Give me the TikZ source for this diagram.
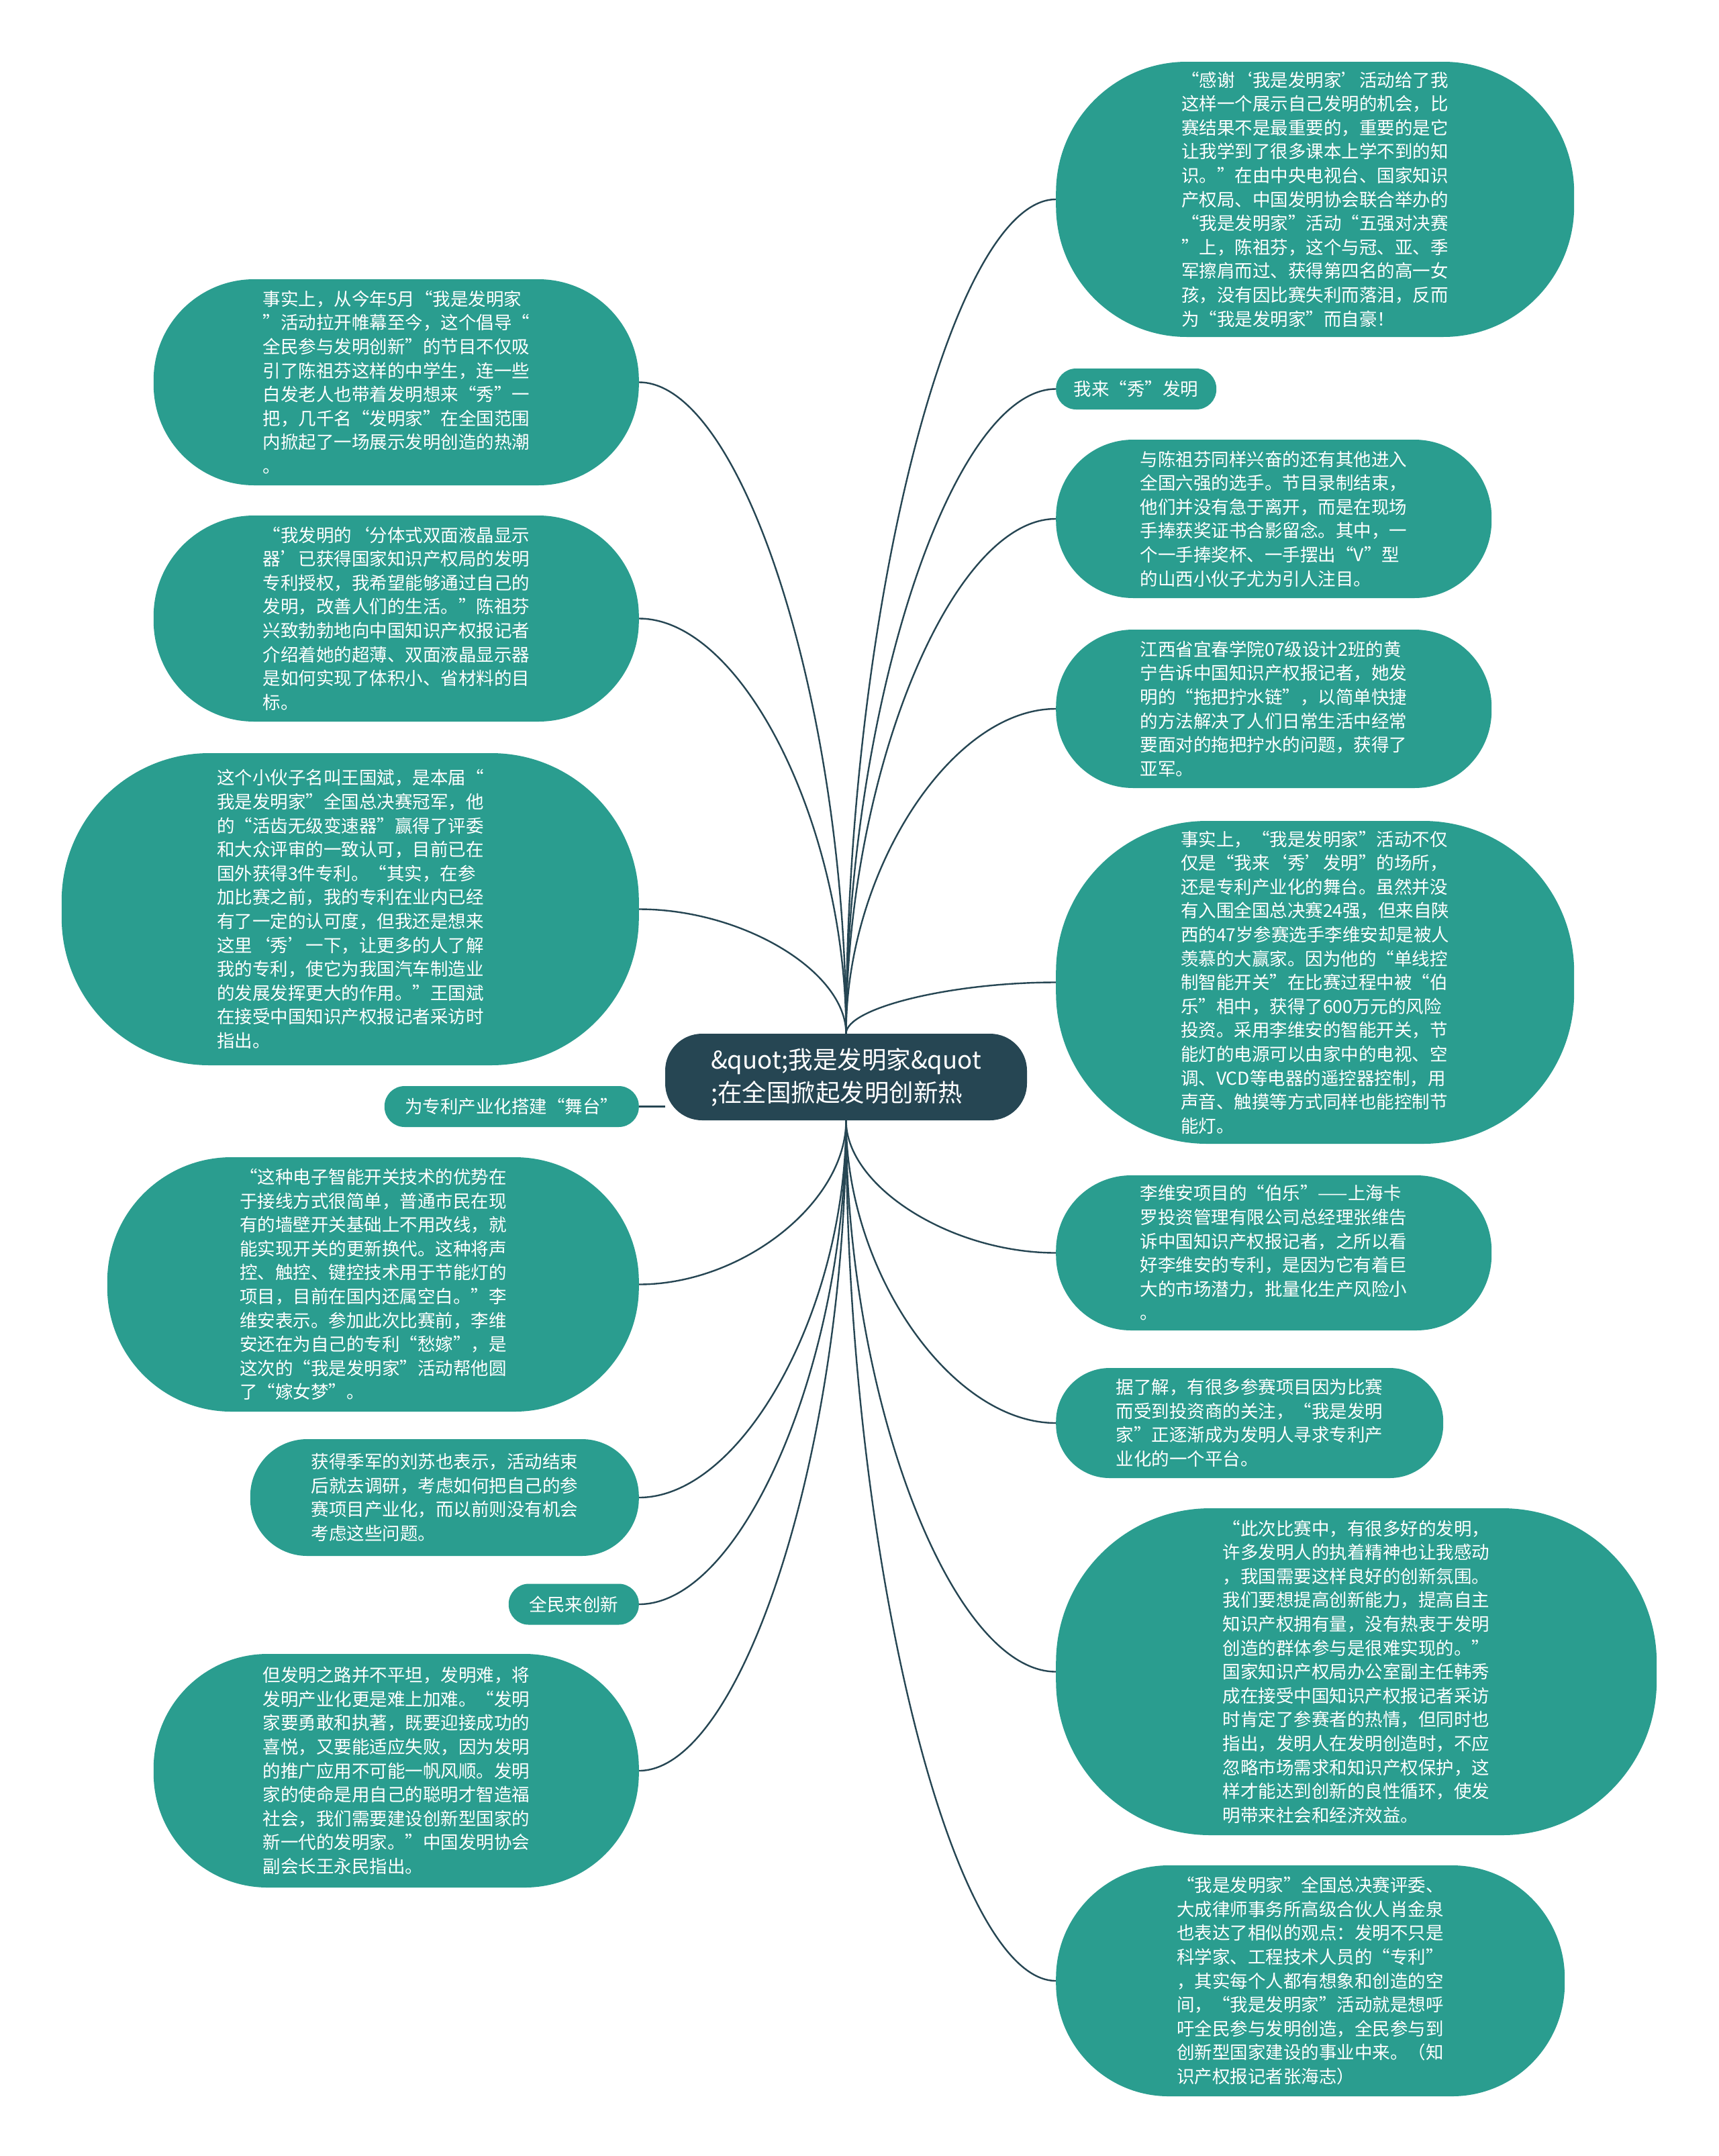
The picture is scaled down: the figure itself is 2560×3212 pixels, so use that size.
\documentclass[tikz,border=0pt]{standalone}
\usepackage{fontspec}
\setmainfont{Noto Sans CJK SC}
\usetikzlibrary{calc}

\definecolor{slate}{HTML}{264653}
\definecolor{seagreen}{HTML}{2A9D8F}

\begin{document}
\begin{tikzpicture}[x=1pt, y=-1pt,
  topic/.style={fill=slate, text=white, rounded corners=55pt, align=left, inner sep=0pt,
    minimum width=539pt, minimum height=129pt, font=\fontsize{36.5}{49}\selectfont},
  leaf/.style={fill=seagreen, text=white, rounded corners=#1, align=left, inner sep=0pt,
    font=\fontsize{26.5}{35.6}\selectfont},
  leaf/.default=150pt,
  tag/.style={fill=seagreen, text=white, rounded corners=30pt, inner sep=0pt,
    minimum height=61pt, font=\fontsize{26.5}{32}\selectfont},
  link/.style={draw=slate, line width=2.4pt,
    to path={let \p1=(\tikztostart), \p2=(\tikztotarget) in
      .. controls (\x1,{0.5*\y1+0.5*\y2}) and ({0.5*\x1+0.5*\x2},\y2) .. (\tikztotarget)}}]

  % -- Canvas --
  \useasboundingbox (0,0) rectangle (2560,3212);
  \fill[white] (0,0) rectangle (2560,3212);

  % -- Central topic --
  \node[topic] (root) at (1260.5,1604.5) {\&quot;我是发明家\&quot\\;在全国掀起发明创新热};

  % -- Right branch --
  \node[leaf=195pt, anchor=west, minimum width=772pt, minimum height=410pt] (r1) at (1573,297)
    {“感谢‘我是发明家’活动给了我\\这样一个展示自己发明的机会，比\\赛结果不是最重要的，重要的是它\\让我学到了很多课本上学不到的知\\识。”在由中央电视台、国家知识\\产权局、中国发明协会联合举办的\\“我是发明家”活动“五强对决赛\\”上，陈祖芬，这个与冠、亚、季\\军擦肩而过、获得第四名的高一女\\孩，没有因比赛失利而落泪，反而\\为“我是发明家”而自豪！};
  \node[tag, anchor=west, minimum width=239pt] (r2) at (1573,579.5) {我来“秀”发明};
  \node[leaf=115pt, anchor=west, minimum width=649pt, minimum height=236pt] (r3) at (1573,773)
    {与陈祖芬同样兴奋的还有其他进入\\全国六强的选手。节目录制结束，\\他们并没有急于离开，而是在现场\\手捧获奖证书合影留念。其中，一\\个一手捧奖杯、一手摆出“V”型\\的山西小伙子尤为引人注目。};
  \node[leaf=115pt, anchor=west, minimum width=649pt, minimum height=236pt] (r4) at (1573,1056)
    {江西省宜春学院07级设计2班的黄\\宁告诉中国知识产权报记者，她发\\明的“拖把拧水链”，以简单快捷\\的方法解决了人们日常生活中经常\\要面对的拖把拧水的问题，获得了\\亚军。};
  \node[leaf=225pt, anchor=west, minimum width=772pt, minimum height=481pt] (r5) at (1573,1463.5)
    {事实上，“我是发明家”活动不仅\\仅是“我来‘秀’发明”的场所，\\还是专利产业化的舞台。虽然并没\\有入围全国总决赛24强，但来自陕\\西的47岁参赛选手李维安却是被人\\羡慕的大赢家。因为他的“单线控\\制智能开关”在比赛过程中被“伯\\乐”相中，获得了600万元的风险\\投资。采用李维安的智能开关，节\\能灯的电源可以由家中的电视、空\\调、VCD等电器的遥控器控制，用\\声音、触摸等方式同样也能控制节\\能灯。};
  \node[leaf=112pt, anchor=west, minimum width=649pt, minimum height=231pt] (r6) at (1573,1866.5)
    {李维安项目的“伯乐”——上海卡\\罗投资管理有限公司总经理张维告\\诉中国知识产权报记者，之所以看\\好李维安的专利，是因为它有着巨\\大的市场潜力，批量化生产风险小\\。};
  \node[leaf=80pt, anchor=west, minimum width=577pt, minimum height=164pt] (r7) at (1573,2120)
    {据了解，有很多参赛项目因为比赛\\而受到投资商的关注，“我是发明\\家”正逐渐成为发明人寻求专利产\\业化的一个平台。};
  \node[leaf=230pt, anchor=west, minimum width=895pt, minimum height=487pt] (r8) at (1573,2490.5)
    {“此次比赛中，有很多好的发明，\\许多发明人的执着精神也让我感动\\，我国需要这样良好的创新氛围。\\我们要想提高创新能力，提高自主\\知识产权拥有量，没有热衷于发明\\创造的群体参与是很难实现的。”\\国家知识产权局办公室副主任韩秀\\成在接受中国知识产权报记者采访\\时肯定了参赛者的热情，但同时也\\指出，发明人在发明创造时，不应\\忽略市场需求和知识产权保护，这\\样才能达到创新的良性循环，使发\\明带来社会和经济效益。};
  \node[leaf=168pt, anchor=west, minimum width=758pt, minimum height=344pt] (r9) at (1573,2951)
    {“我是发明家”全国总决赛评委、\\大成律师事务所高级合伙人肖金泉\\也表达了相似的观点：发明不只是\\科学家、工程技术人员的“专利”\\，其实每个人都有想象和创造的空\\间，“我是发明家”活动就是想呼\\吁全民参与发明创造，全民参与到\\创新型国家建设的事业中来。（知\\识产权报记者张海志）};

  % -- Left branch --
  \node[leaf=150pt, anchor=east, minimum width=723pt, minimum height=307pt] (l1) at (952,569.5)
    {事实上，从今年5月“我是发明家\\”活动拉开帷幕至今，这个倡导“\\全民参与发明创新”的节目不仅吸\\引了陈祖芬这样的中学生，连一些\\白发老人也带着发明想来“秀”一\\把，几千名“发明家”在全国范围\\内掀起了一场展示发明创造的热潮\\。};
  \node[leaf=150pt, anchor=east, minimum width=723pt, minimum height=307pt] (l2) at (952,921.5)
    {“我发明的‘分体式双面液晶显示\\器’已获得国家知识产权局的发明\\专利授权，我希望能够通过自己的\\发明，改善人们的生活。”陈祖芬\\兴致勃勃地向中国知识产权报记者\\介绍着她的超薄、双面液晶显示器\\是如何实现了体积小、省材料的目\\标。};
  \node[leaf=220pt, anchor=east, minimum width=860pt, minimum height=465pt] (l3) at (952,1354.5)
    {这个小伙子名叫王国斌，是本届“\\我是发明家”全国总决赛冠军，他\\的“活齿无级变速器”赢得了评委\\和大众评审的一致认可，目前已在\\国外获得3件专利。“其实，在参\\加比赛之前，我的专利在业内已经\\有了一定的认可度，但我还是想来\\这里‘秀’一下，让更多的人了解\\我的专利，使它为我国汽车制造业\\的发展发挥更大的作用。”王国斌\\在接受中国知识产权报记者采访时\\指出。};
  \node[tag, anchor=east, minimum width=379pt] (l4) at (952,1648.5) {为专利产业化搭建“舞台”};
  \node[leaf=185pt, anchor=east, minimum width=792pt, minimum height=379pt] (l5) at (952,1913.5)
    {“这种电子智能开关技术的优势在\\于接线方式很简单，普通市民在现\\有的墙壁开关基础上不用改线，就\\能实现开关的更新换代。这种将声\\控、触控、键控技术用于节能灯的\\项目，目前在国内还属空白。”李\\维安表示。参加此次比赛前，李维\\安还在为自己的专利“愁嫁”，是\\这次的“我是发明家”活动帮他圆\\了“嫁女梦”。};
  \node[leaf=85pt, anchor=east, minimum width=579pt, minimum height=174pt] (l6) at (952,2231)
    {获得季军的刘苏也表示，活动结束\\后就去调研，考虑如何把自己的参\\赛项目产业化，而以前则没有机会\\考虑这些问题。};
  \node[tag, anchor=east, minimum width=194pt] (l7) at (952,2390) {全民来创新};
  \node[leaf=170pt, anchor=east, minimum width=723pt, minimum height=348pt] (l8) at (952,2638)
    {但发明之路并不平坦，发明难，将\\发明产业化更是难上加难。“发明\\家要勇敢和执著，既要迎接成功的\\喜悦，又要能适应失败，因为发明\\的推广应用不可能一帆风顺。发明\\家的使命是用自己的聪明才智造福\\社会，我们需要建设创新型国家的\\新一代的发明家。”中国发明协会\\副会长王永民指出。};

  % -- Links --
  \draw[link] (root.north) to (r1.west);
  \draw[link] (root.north) to (r2.west);
  \draw[link] (root.north) to (r3.west);
  \draw[link] (root.north) to (r4.west);
  \draw[link] (root.north) to (r5.west);
  \draw[link] (root.south) to (r6.west);
  \draw[link] (root.south) to (r7.west);
  \draw[link] (root.south) to (r8.west);
  \draw[link] (root.south) to (r9.west);
  \draw[link] (root.north) to (l1.east);
  \draw[link] (root.north) to (l2.east);
  \draw[link] (root.north) to (l3.east);
  \draw[draw=slate, line width=2.4pt] (l4.east) -- (l4.east -| root.west);
  \draw[link] (root.south) to (l5.east);
  \draw[link] (root.south) to (l6.east);
  \draw[link] (root.south) to (l7.east);
  \draw[link] (root.south) to (l8.east);

\end{tikzpicture}
\end{document}
